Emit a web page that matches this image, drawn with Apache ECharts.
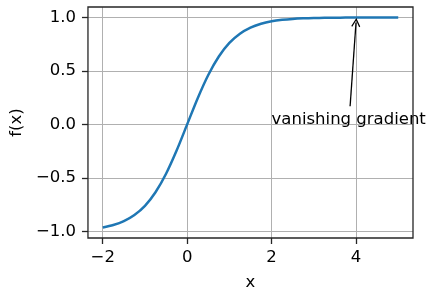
<!DOCTYPE html>
<html><head><meta charset="utf-8">
<script src="https://cdn.jsdelivr.net/npm/echarts@6/dist/echarts.min.js"></script>
<style>html,body{margin:0;padding:0;background:#fff}#c{width:434px;height:301px}</style>
</head><body><div id="c"></div>
<script>
var xValues = [-2,-1.75,-1.5,-1.25,-1,-0.75,-0.5,-0.25,0,0.25,0.5,0.75,1,1.25,1.5,1.75,2,2.25,2.5,2.75,3,3.25,3.5,3.75,4,4.25,4.5,4.75,5];
var yValues = [-0.964,-0.941,-0.905,-0.848,-0.762,-0.635,-0.462,-0.245,0,0.245,0.462,0.635,0.762,0.848,0.905,0.941,0.964,0.978,0.987,0.992,0.995,0.997,0.998,0.999,0.999,1.0,1.0,1.0,1.0];
var xTicks = [-2,0,2,4];
var yTicks = [-1.0,-0.5,0.0,0.5,1.0];
var annotationText = 'vanishing gradient';
var annotationTextAt = [2, 0];
var arrowTail = [3.86, 0.17];
var arrowHead = [4, 0.953];

var FONT = 'DejaVu Sans';
var FS = 16.5;
function fmt(v, d){ return v.toFixed(d).replace('-', '\u2212'); }
var data = xValues.map(function(x,i){ return [x, yValues[i]]; });
var chart = echarts.init(document.getElementById('c'), null, {renderer:'canvas'});
chart.setOption({
  animation:false,
  grid:{left:87,right:21,top:7,bottom:63,show:true,borderColor:'#262626',borderWidth:1.3,backgroundColor:'transparent',z:10},
  xAxis:{type:'value',min:-2.35,max:5.35,
    name:'x',nameLocation:'middle',nameGap:36,nameTextStyle:{fontFamily:FONT,fontSize:FS,color:'#000'},
    axisLine:{show:false,onZero:false},
    axisTick:{show:true,length:6,lineStyle:{color:'#262626',width:1.3},customValues:xTicks},
    axisLabel:{fontFamily:FONT,fontSize:FS,color:'#000',margin:11,customValues:xTicks,formatter:function(v){return fmt(v,0);}},
    splitLine:{show:true,lineStyle:{color:'#b0b0b0',width:1}}},
  yAxis:{type:'value',min:-1.0627,max:1.0982,
    name:'f(x)',nameLocation:'middle',nameGap:51,nameRotate:90,nameTextStyle:{fontFamily:FONT,fontSize:FS,color:'#000'},
    axisLine:{show:false,onZero:false},
    axisTick:{show:true,length:6,lineStyle:{color:'#262626',width:1.3},customValues:yTicks},
    axisLabel:{fontFamily:FONT,fontSize:FS,color:'#000',margin:12,customValues:yTicks,formatter:function(v){return fmt(v,1);}},
    splitLine:{show:true,lineStyle:{color:'#b0b0b0',width:1}}},
  series:[
    {type:'line',data:data,smooth:0.3,showSymbol:false,lineStyle:{color:'#1f77b4',width:2.5},itemStyle:{color:'#1f77b4'},z:3,
     markLine:{silent:true,z:4,symbol:['none','path://M0,0 L6,10 L4.6,11 L0,3 L-4.6,11 L-6,10 Z'],symbolSize:[9,9],symbolOffset:[0,0],label:{show:false},
       lineStyle:{color:'#000',width:1.3,type:'solid'},itemStyle:{color:'#000'},
       data:[[{coord:arrowTail},{coord:arrowHead}]]},
     markPoint:{silent:true,symbol:'circle',symbolSize:0,
       label:{show:true,position:[0,0],align:'left',verticalAlign:'bottom',offset:[0,4],fontFamily:FONT,fontSize:FS,color:'#000',formatter:annotationText},
       data:[{coord:annotationTextAt}]}}
  ]
});
</script></body></html>
